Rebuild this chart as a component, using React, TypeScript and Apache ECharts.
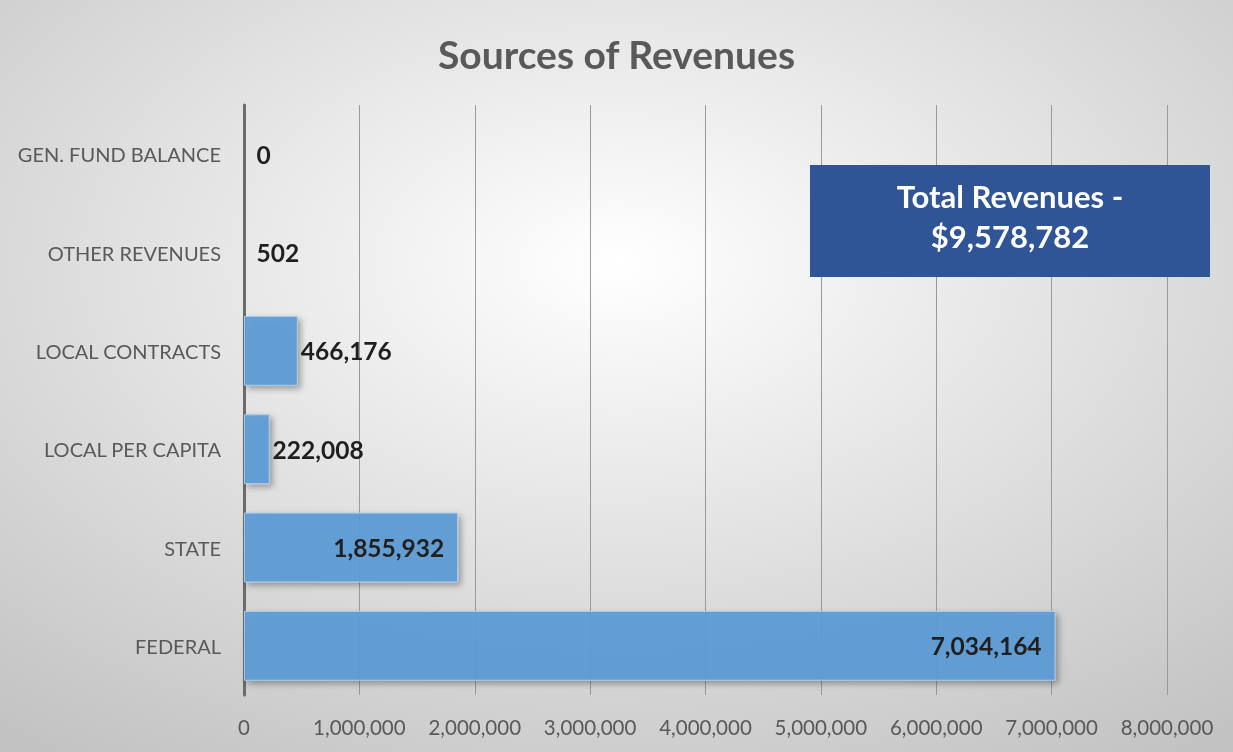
import React, { useEffect, useRef } from "react";
import * as echarts from "echarts";

const categories = ["FEDERAL", "STATE", "LOCAL PER CAPITA", "LOCAL CONTRACTS", "OTHER REVENUES", "GEN. FUND BALANCE"];
const values = [7034164, 1855932, 222008, 466176, 502, 0];
const totalText = ["Total Revenues -", "$9,578,782"];
const chartTitle = "Sources of Revenues";

const FONT = "Lato, 'Open Sans', sans-serif";

export default function App() {
  const ref = useRef<HTMLDivElement>(null);
  useEffect(() => {
    const chart = echarts.init(ref.current!, undefined, { renderer: "svg" });
    const fmt = (v: number) => v.toLocaleString("en-US");
    chart.setOption({
      animation: false,
      backgroundColor: {
        type: "radial",
        x: 0.5,
        y: 0.35,
        r: 0.8,
        colorStops: [
          { offset: 0, color: "#ffffff" },
          { offset: 1, color: "#c2c2c2" },
        ],
      },
      title: {
        text: chartTitle,
        left: "center",
        top: 29,
        textStyle: { fontFamily: FONT, fontSize: 39, fontWeight: "bold", color: "#595959" },
      },
      grid: { left: 244, right: 66, top: 105, bottom: 57, containLabel: false },
      xAxis: {
        type: "value",
        min: 0,
        max: 8000000,
        interval: 1000000,
        axisLine: { show: false },
        axisTick: { show: false },
        splitLine: { show: true, lineStyle: { color: "#9a9a9a", width: 1 } },
        axisLabel: {
          formatter: (v: number) => fmt(v),
          fontFamily: FONT,
          fontSize: 20.5,
          color: "#595959",
          margin: 21,
        },
      },
      yAxis: {
        type: "category",
        data: categories,
        axisLine: { show: true, lineStyle: { color: "#6b6b6b", width: 3 } },
        axisTick: { show: false },
        axisLabel: { fontFamily: FONT, fontSize: 20, color: "#595959", margin: 23 },
      },
      series: [
        {
          type: "bar",
          barWidth: "71%",
          data: values.map((v) => ({
            value: v,
            label: v > 1000000
              ? { position: "insideRight", distance: 14 }
              : { position: "right", distance: v < 1000 ? 12 : 3 },
          })),
          itemStyle: {
            color: "rgba(91,155,213,0.92)",
            borderColor: "#a9cbe9",
            borderWidth: 1,
            shadowBlur: 6,
            shadowOffsetX: 3,
            shadowOffsetY: 3,
            shadowColor: "rgba(0,0,0,0.35)",
          },
          label: {
            show: true,
            formatter: (p: any) => fmt(p.value),
            fontFamily: FONT,
            fontSize: 24.5,
            fontWeight: "bold",
            color: "#1f1f1f",
          },
        },
      ],
      graphic: [
        {
          type: "rect",
          shape: { x: 810, y: 165, width: 400, height: 112 },
          style: { fill: "#2f5597" },
          z: 10,
        },
        {
          type: "text",
          x: 1010,
          y: 196,
          style: {
            text: totalText[0],
            fill: "#ffffff",
            font: `bold 31px ${FONT}`,
            textAlign: "center",
            textVerticalAlign: "middle",
          },
          z: 11,
        },
        {
          type: "text",
          x: 1010,
          y: 236,
          style: {
            text: totalText[1],
            fill: "#ffffff",
            font: `bold 31px ${FONT}`,
            textAlign: "center",
            textVerticalAlign: "middle",
          },
          z: 11,
        },
      ],
    });
    return () => chart.dispose();
  }, []);
  return (
    <div
      ref={ref}
      style={{ position: "fixed", left: 0, top: 0, width: 1233, height: 752 }}
    />
  );
}
